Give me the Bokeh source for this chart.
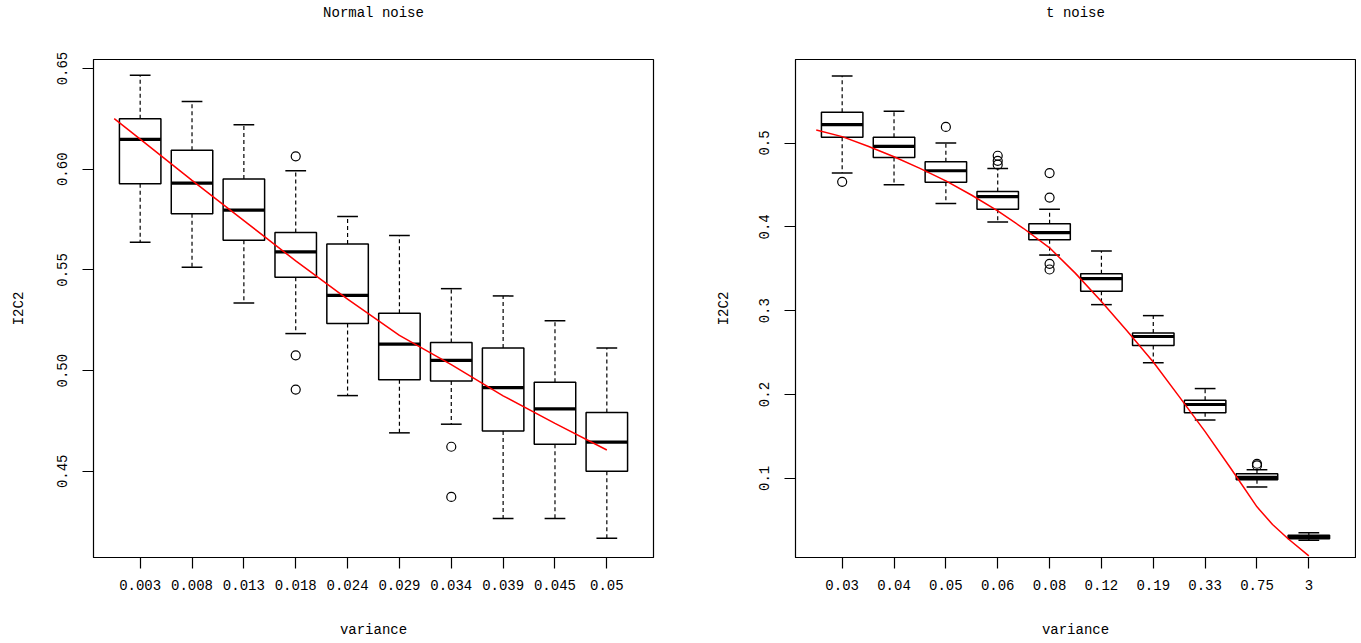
import numpy as np
from bokeh.plotting import figure
from bokeh.layouts import row
from bokeh.models import FixedTicker, Range1d, ColumnDataSource, PrintfTickFormatter, LinearAxis
from bokeh.embed import file_html
from bokeh.resources import INLINE

FONT = "Liberation Mono"

# ---------------- Normal noise ----------------
normal_cats = ["0.003", "0.008", "0.013", "0.018", "0.024", "0.029", "0.034", "0.039", "0.045", "0.05"]
normal_lower = [0.5638, 0.5513, 0.5336, 0.5184, 0.4876, 0.4691, 0.4734, 0.4266, 0.4266, 0.4167]
normal_q1 = [0.5928, 0.5779, 0.5648, 0.5464, 0.5234, 0.4955, 0.4949, 0.4700, 0.4635, 0.4500]
normal_med = [0.6148, 0.5931, 0.5797, 0.5590, 0.5374, 0.5132, 0.5051, 0.4916, 0.4810, 0.4645]
normal_q3 = [0.6251, 0.6094, 0.5951, 0.5686, 0.5629, 0.5285, 0.5140, 0.5112, 0.4942, 0.4792]
normal_upper = [0.6467, 0.6337, 0.6221, 0.5993, 0.5765, 0.5671, 0.5407, 0.5371, 0.5248, 0.5112]
normal_out_cat = [4, 4, 4, 7, 7]
normal_out_val = [0.6064, 0.5076, 0.4906, 0.4622, 0.4373]
normal_trend_x = [0.5, 1, 2, 3, 4, 5, 6, 7, 8, 9, 10]
normal_trend_y = [0.6251, 0.6150, 0.5945, 0.5745, 0.5545, 0.5355, 0.5175, 0.5030, 0.4875, 0.4738, 0.4606]

# ---------------- t noise ----------------
t_cats = ["0.03", "0.04", "0.05", "0.06", "0.08", "0.12", "0.19", "0.33", "0.75", "3"]
t_lower = [0.4641, 0.4501, 0.4277, 0.4058, 0.3663, 0.3072, 0.2379, 0.1696, 0.0897, 0.0261]
t_q1 = [0.5068, 0.4828, 0.4533, 0.4210, 0.3846, 0.3232, 0.2585, 0.1783, 0.0984, 0.0281]
t_med = [0.5220, 0.4960, 0.4669, 0.4361, 0.3930, 0.3383, 0.2692, 0.1881, 0.1012, 0.0300]
t_q3 = [0.5367, 0.5068, 0.4776, 0.4421, 0.4038, 0.3439, 0.2735, 0.1933, 0.1055, 0.0320]
t_upper = [0.5798, 0.5379, 0.5000, 0.4697, 0.4210, 0.3711, 0.2941, 0.2071, 0.1103, 0.0352]
t_out_cat = [1, 3, 4, 4, 4, 5, 5, 5, 5, 9, 9]
t_out_val = [0.4537, 0.5192, 0.4848, 0.4788, 0.4741, 0.4641, 0.4349, 0.3559, 0.3491, 0.1174, 0.1154]
t_trend_x = [0.5, 1, 1.5, 2, 2.5, 3, 3.5, 4, 4.5, 5, 5.5, 6, 6.5, 7, 7.5, 8, 8.5, 9, 9.3, 9.6, 10]
t_trend_y = [0.5156, 0.5076, 0.4962, 0.4836, 0.4698, 0.4549, 0.4377, 0.4190, 0.3980, 0.3750,
             0.3445, 0.3110, 0.2755, 0.2387, 0.1975, 0.1557, 0.1115, 0.0660, 0.0450, 0.0280, 0.0075]


def style_text_axis(ax):
    ax.major_tick_out = 11
    ax.major_tick_in = 0
    ax.minor_tick_line_color = None
    ax.major_tick_line_color = "black"
    ax.major_tick_line_width = 1.2
    ax.axis_line_color = "black"
    ax.major_label_text_font = FONT
    ax.major_label_text_font_size = "14px"
    ax.major_label_text_font_style = "normal"
    ax.major_label_text_color = "black"
    ax.axis_label_text_font = FONT
    ax.axis_label_text_font_size = "14px"
    ax.axis_label_text_font_style = "normal"
    ax.axis_label_text_color = "black"


def panel(title, cats, lower, q1, med, q3, upper, out_cat, out_val, tx, ty,
          y_lo, y_hi, yticks, fmt, width, border_left, border_right, ylab_off):
    n = len(cats)
    pos = np.arange(1, n + 1)
    p = figure(width=width, height=642,
               min_border_left=border_left, min_border_right=border_right,
               min_border_top=59, min_border_bottom=85,
               x_range=Range1d(0.1, 10.9), y_range=Range1d(y_lo, y_hi),
               output_backend="svg", toolbar_location=None,
               background_fill_color="white", border_fill_color="white")
    p.xgrid.visible = False
    p.ygrid.visible = False
    p.outline_line_color = "black"
    p.outline_line_width = 1.2
    p.title.visible = False

    hw = 0.4
    sw = 0.2
    src = ColumnDataSource(dict(x=pos, lower=lower, q1=q1, med=med, q3=q3, upper=upper,
                                l=pos - hw, r=pos + hw, sl=pos - sw, sr=pos + sw))
    p.segment(x0="x", y0="q3", x1="x", y1="upper", source=src, line_color="black",
              line_width=1.2, line_dash="4 3")
    p.segment(x0="x", y0="q1", x1="x", y1="lower", source=src, line_color="black",
              line_width=1.2, line_dash="4 3")
    p.segment(x0="sl", y0="upper", x1="sr", y1="upper", source=src, line_color="black", line_width=1.5)
    p.segment(x0="sl", y0="lower", x1="sr", y1="lower", source=src, line_color="black", line_width=1.5)
    p.quad(left="l", right="r", bottom="q1", top="q3", source=src, fill_color="white",
           line_color="black", line_width=1.5)
    p.segment(x0="l", y0="med", x1="r", y1="med", source=src, line_color="black", line_width=3.2)
    p.scatter(x=list(out_cat), y=list(out_val), marker="circle", size=9, fill_color=None,
              line_color="black", line_width=1.2)
    p.line(x=tx, y=ty, line_color="red", line_width=1.5)

    # title drawn as the label of an empty axis above the frame
    top_axis = LinearAxis(ticker=FixedTicker(ticks=[]), axis_label=title)
    top_axis.axis_line_color = None
    top_axis.major_tick_out = 0
    top_axis.major_tick_in = 0
    top_axis.minor_tick_line_color = None
    top_axis.major_label_standoff = 0
    top_axis.axis_label_standoff = 39
    top_axis.axis_label_text_font = FONT
    top_axis.axis_label_text_font_size = "14px"
    top_axis.axis_label_text_font_style = "normal"
    top_axis.axis_label_text_color = "black"
    p.add_layout(top_axis, "above")

    xa = p.below[0]
    ya = p.left[0]
    style_text_axis(xa)
    style_text_axis(ya)

    xa.ticker = FixedTicker(ticks=[float(v) for v in pos])
    xa.major_label_overrides = {float(v): c for v, c in zip(pos, cats)}
    xa.major_label_standoff = 11
    xa.axis_label = "variance"
    xa.axis_label_standoff = 29

    ya.ticker = FixedTicker(ticks=yticks)
    ya.formatter = PrintfTickFormatter(format=fmt)
    ya.major_label_orientation = "parallel"
    ya.major_label_standoff = 15
    ya.axis_label = "I2C2"
    ya.axis_label_standoff = ylab_off
    return p


p1 = panel("Normal noise", normal_cats, normal_lower, normal_q1, normal_med, normal_q3, normal_upper,
           normal_out_cat, normal_out_val, normal_trend_x, normal_trend_y,
           0.4072, 0.6545, [0.45, 0.50, 0.55, 0.60, 0.65], "%.2f", 680, 93, 27, 28)
p2 = panel("t noise", t_cats, t_lower, t_q1, t_med, t_q3, t_upper,
           t_out_cat, t_out_val, t_trend_x, t_trend_y,
           0.0056, 0.5996, [0.1, 0.2, 0.3, 0.4, 0.5], "%.1f", 676, 115, 1, 25)

layout = row(p1, p2)
open("out.html", "w").write(file_html(layout, INLINE))
